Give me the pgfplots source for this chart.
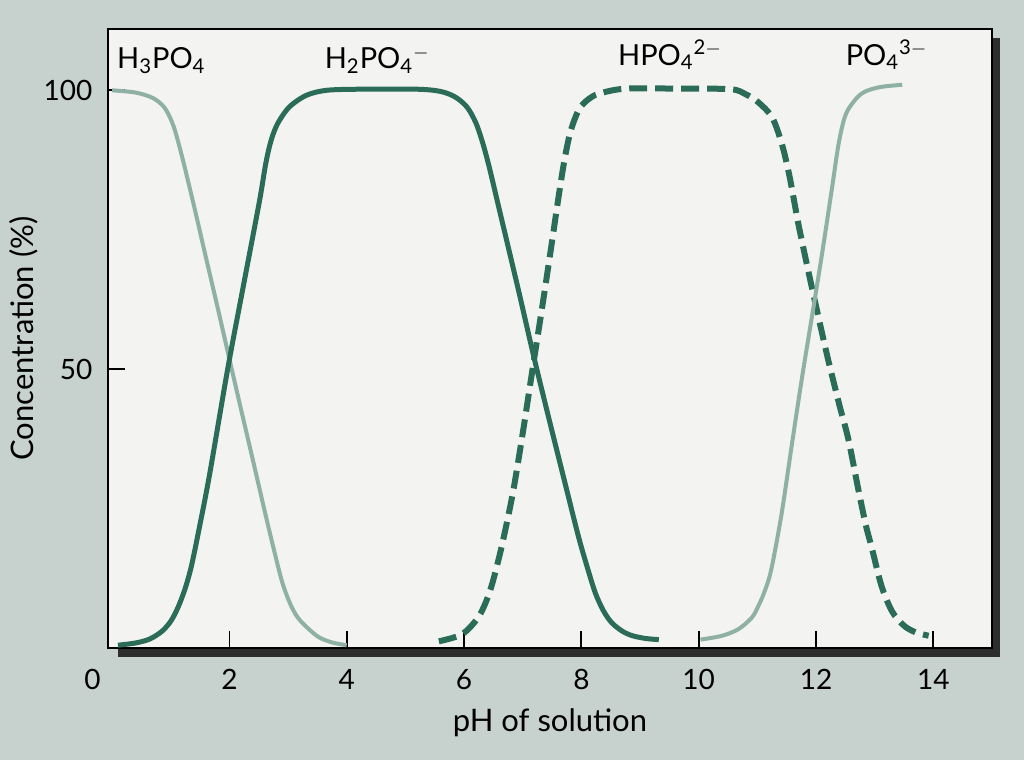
\documentclass[border=0pt]{standalone}
\usepackage{pgfplots}
\pgfplotsset{compat=1.18}
\usepackage{fontspec}
\setmainfont{Lato}

\definecolor{pagebg}{RGB}{199,209,205}
\definecolor{plotbg}{RGB}{243,243,241}
\definecolor{darkteal}{RGB}{42,108,88}
\definecolor{lightteal}{RGB}{143,176,165}
\definecolor{boxshadow}{RGB}{45,45,45}

\begin{document}
\begin{tikzpicture}[font=\fontsize{14}{17}\selectfont]
% scanned page and drop shadow of the frame
\fill[pagebg] (-54pt,-56pt) rectangle (458pt,324pt);
\fill[boxshadow] (5pt,-4.5pt) rectangle (446pt,0pt);
\fill[boxshadow] (441pt,-4.5pt) rectangle (446pt,305pt);
\begin{axis}[
  scale only axis, width=442pt, height=309.5pt,
  xmin=-0.07, xmax=15, ymin=0, ymax=111,
  clip=false,
  axis background/.style={fill=plotbg},
  axis line style={line width=1pt, black},
  tick pos=left, tick align=inside,
  major tick length=8.5pt,
  tick style={line width=0.9pt, black},
  xtick={2,4,...,14}, ytick={50,100},
  extra x ticks={0},
  extra x tick style={major tick length=0pt, xticklabel style={xshift=-9.75pt}},
  /pgf/number format/assume math mode=true,
  xticklabel style={yshift=-7.3pt},
  yticklabel style={xshift=-4.3pt},
  xlabel={pH of solution},
  ylabel={Concentration (\%)},
  label style={font=\fontsize{15.5}{18}\selectfont},
  xlabel style={at={(axis description cs:0.5,-0.1357)}, anchor=base},
  ylabel style={at={(axis description cs:-0.0848,0.5)}, anchor=base},
  every axis plot/.append style={smooth, tension=0.5},
]
% H3PO4
\addplot[lightteal, line width=2pt] coordinates {
(0,100) (0.4,99.6) (0.7,98.6) (0.9,96.8) (1.05,93.5) (1.2,87.8)
(1.4,79.1) (1.6,70) (1.8,61) (2.0,51.8) (2.2,42.7) (2.4,33.7)
(2.6,24.6) (2.75,18) (2.9,11.8) (3.05,7.6) (3.2,5) (3.5,2.1)
(3.75,1) (4.0,0.5)
};
% H2PO4-
\addplot[darkteal, line width=2.5pt] coordinates {
(0.1,0.5) (0.4,0.9) (0.64,1.6) (0.85,3) (1.0,4.8) (1.12,7.2)
(1.24,10.5) (1.35,14.6) (1.48,21.2) (1.66,31) (1.97,50) (2.23,64.5)
(2.51,80) (2.62,86.9) (2.71,91) (2.82,94) (3.02,97) (3.31,99.1)
(3.65,100) (4.2,100.2) (5.2,100.2) (5.6,99.8) (5.85,98.8) (6.05,97)
(6.2,94.2) (6.32,90.5) (6.43,86.2) (6.57,80) (6.71,73.8) (6.94,63.6)
(7.19,52.2) (7.45,41) (7.73,29.2) (7.95,20) (8.1,14.5) (8.24,9.8)
(8.38,6.6) (8.52,4.5) (8.7,3) (8.87,2.2) (9.1,1.7) (9.32,1.5)
};
% HPO4 2-
\addplot[darkteal, line width=3pt, dash pattern=on 9pt off 4pt] coordinates {
(5.57,1.2) (5.97,2.5) (6.26,5.8) (6.45,10.5) (6.63,17.7) (6.83,27.7)
(7.0,38.5) (7.16,49.5) (7.33,61) (7.48,71.5) (7.62,81.5) (7.72,88)
(7.82,92.8) (7.96,96.6) (8.12,98.4) (8.3,99.4) (8.75,100.3) (9.7,100.3)
(10.55,100.2) (10.8,99.3) (11.0,98) (11.25,95.2) (11.42,90.3) (11.55,84.5)
(11.7,76) (11.85,68.5) (12.0,61.3) (12.2,52) (12.4,43.5) (12.55,37.5)
(12.72,28.5) (12.85,22) (12.95,18) (13.12,11) (13.3,6.5) (13.5,4)
(13.7,2.8) (13.92,2.2)
};
% PO4 3-
\addplot[lightteal, line width=2pt] coordinates {
(10.03,1.5) (10.4,2.2) (10.68,3.4) (10.91,5.5) (11.02,7.6) (11.1,9.5)
(11.2,12.5) (11.28,16.3) (11.42,24.5) (11.59,36.6) (11.76,48.4) (11.93,59.4)
(12.1,70.5) (12.27,82.3) (12.38,90.1) (12.47,94.5) (12.55,96.6) (12.7,98.7)
(12.84,99.8) (13.1,100.6) (13.47,101)
};
\begin{scope}[every node/.style={anchor=base west, inner sep=0pt, font=\fontsize{14.5}{17}\selectfont}]
\node at (axis cs:0.08,103.9) {H\textsubscript{3}PO\textsubscript{4}};
\node at (axis cs:3.62,103.9) {H\textsubscript{2}PO\textsubscript{4}\textsuperscript{$-$}};
\node at (axis cs:8.62,104.5) {HPO\textsubscript{4}\textsuperscript{2$-$}};
\node at (axis cs:12.5,104.5) {PO\textsubscript{4}\textsuperscript{3$-$}};
\end{scope}
\end{axis}
\pgfresetboundingbox
\path[use as bounding box] (-54pt,-56pt) rectangle (458pt,324pt);
\end{tikzpicture}
\end{document}
